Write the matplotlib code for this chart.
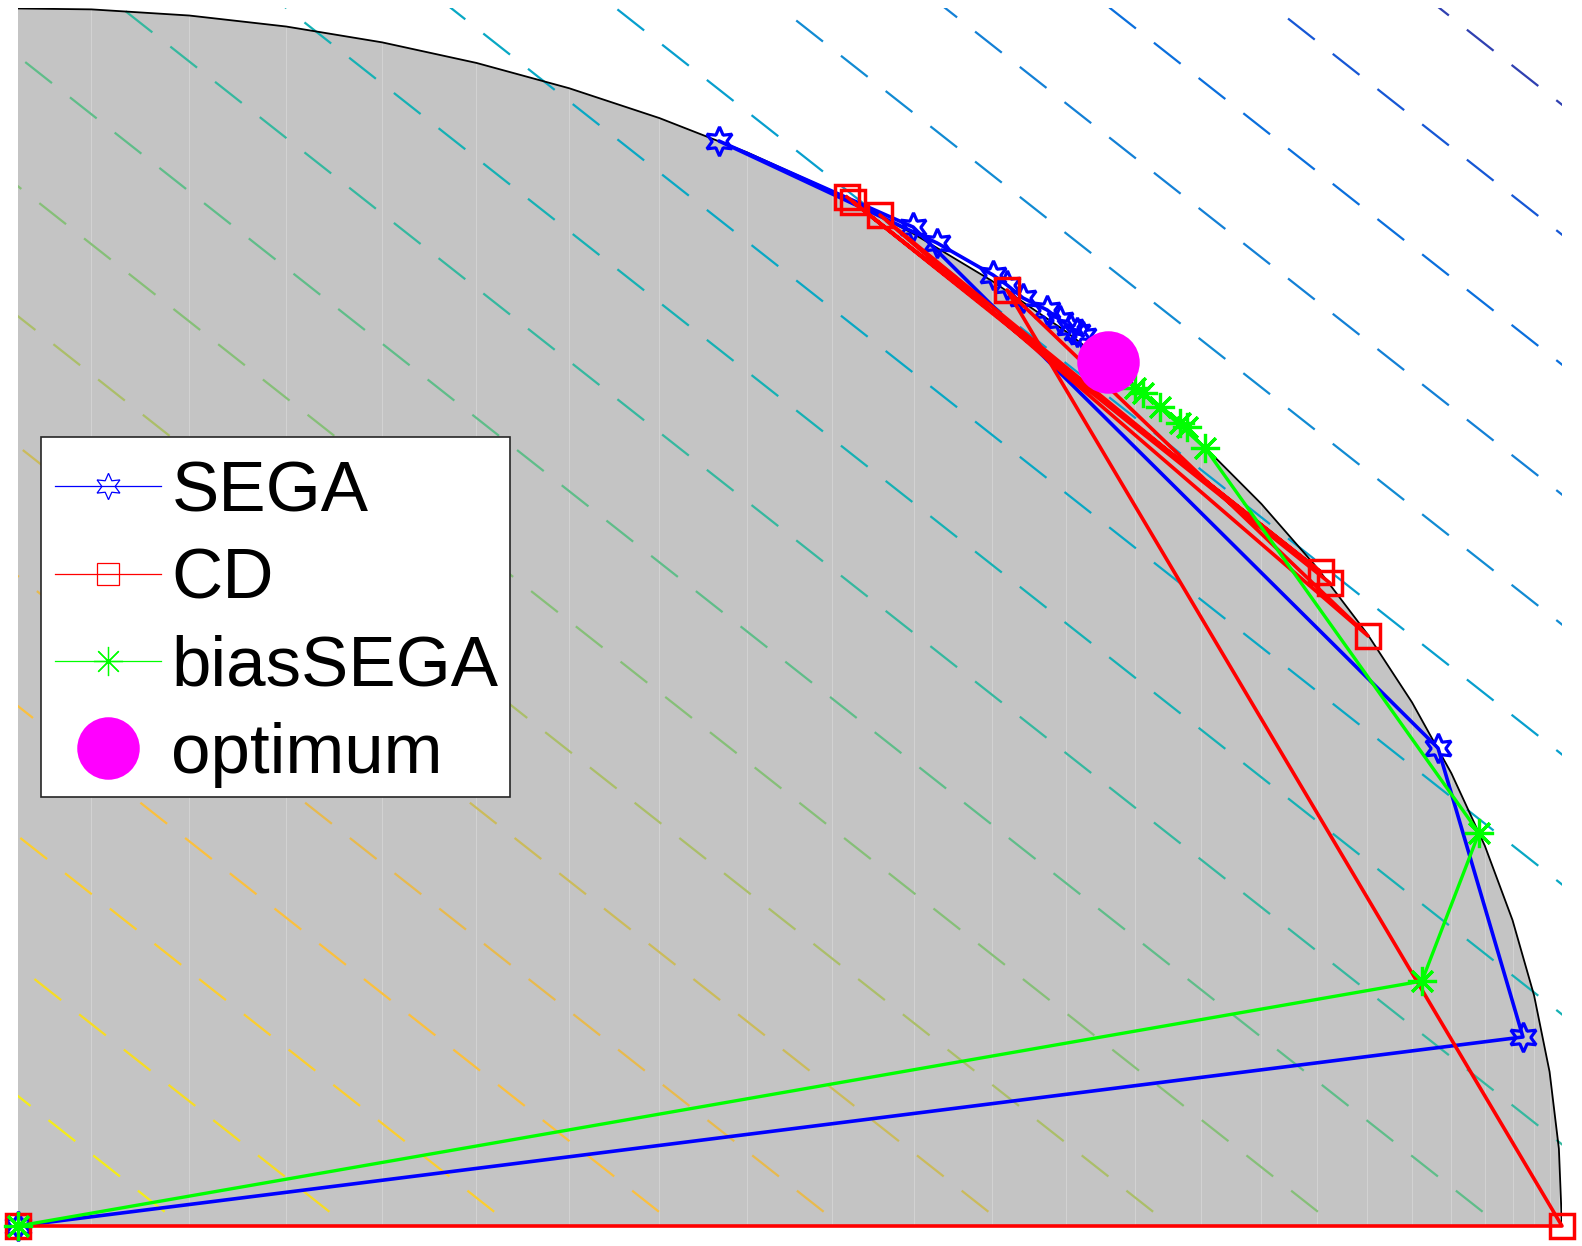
import numpy as np
import matplotlib
matplotlib.use("Agg")
import matplotlib.pyplot as plt
from matplotlib.colors import LinearSegmentedColormap
from matplotlib.lines import Line2D
from matplotlib.patches import Rectangle

plt.rcParams['font.family'] = ['Liberation Sans', 'DejaVu Sans']
plt.rcParams['lines.scale_dashes'] = False

# iterates of each method (normalised so the ellipse is the unit circle)
sega_x = [0.0, 0.9747, 0.9197, 0.5797, 0.4540, 0.5952, 0.6315, 0.6405, 0.6509,
          0.6665, 0.6749, 0.6813, 0.6859, 0.6898]
sega_y = [0.0, 0.1552, 0.3924, 0.8202, 0.8908, 0.8071, 0.7808, 0.7726, 0.7619,
          0.7521, 0.7438, 0.7381, 0.7340, 0.7307]

cd_x = [0.0, 1.0, 0.6405, 0.8744, 0.5583, 0.8497, 0.5408, 0.8439, 0.5369]
cd_y = [0.0, 0.0, 0.7685, 0.4844, 0.8300, 0.5279, 0.8407, 0.5369, 0.8448]

bias_x = [0.0, 0.9093, 0.9462, 0.7688, 0.7396, 0.7571, 0.7286, 0.7526, 0.7235]
bias_y = [0.0, 0.2011, 0.3227, 0.6388, 0.6724, 0.6560, 0.6839, 0.6593, 0.6880]

opt_x = [0.706]
opt_y = [0.709]

labels = ['SEGA', 'CD', 'biasSEGA', 'optimum']

# objective contour levels (linear objective -(x+y))
level_step = 0.1067
n_levels = 18

# parula-like colormap
parula = LinearSegmentedColormap.from_list('parula', [
    (0.2081, 0.1663, 0.5292), (0.1707, 0.2919, 0.7792), (0.0117, 0.3875, 0.8820),
    (0.0722, 0.4887, 0.8467), (0.0793, 0.5200, 0.8312), (0.0266, 0.6137, 0.8135),
    (0.0228, 0.6535, 0.7768), (0.0843, 0.6928, 0.7062), (0.2178, 0.7250, 0.6193),
    (0.3953, 0.7459, 0.5244), (0.5709, 0.7485, 0.4494), (0.7184, 0.7411, 0.3905),
    (0.8506, 0.7299, 0.3360), (0.9739, 0.7314, 0.2666), (0.9955, 0.7861, 0.1967),
    (0.9697, 0.8481, 0.1475), (0.9598, 0.9218, 0.0948), (0.9763, 0.9831, 0.0538)])

W, H = 1582, 1246
fig = plt.figure(figsize=(W / 100, H / 100), dpi=100)
ax = fig.add_axes([18 / W, 20 / H, 1544 / W, 1218 / H])
ax.set_xlim(0, 1)
ax.set_ylim(0, 1)
ax.axis('off')

# feasible set
theta = np.linspace(0, 2 * np.pi, 100)
ex, ey = np.cos(theta), np.sin(theta)
ax.fill(ex, ey, color='#c4c4c4', lw=0, zorder=1)
for px, py in zip(ex, ey):
    if 0 < px < 1 and 0 < py < 1:
        ax.plot([px, px], [0, py], color='white', alpha=0.25, lw=0.8, zorder=1.2)

# contours
gx = np.linspace(-0.05, 1.05, 60)
X, Y = np.meshgrid(gx, gx)
Z = -(X + Y)
levels = np.sort(-level_step * np.arange(1, n_levels + 1))
cs = ax.contour(X, Y, Z, levels=levels, cmap=parula, vmin=-2, vmax=0,
                linewidths=1.6, zorder=2)
cs.set_linestyle((0, (24.5, 16.5)))

ax.plot(ex, ey, color='black', lw=1.3, zorder=3)

# paths
ax.plot(sega_x, sega_y, color='blue', lw=2.6, marker=(6, 1, 0), ms=21,
        mfc='none', mew=2.3, clip_on=False, zorder=4)
ax.plot(cd_x, cd_y, color='red', lw=2.6, marker='s', ms=17,
        mfc='none', mew=2.5, clip_on=False, zorder=5)
ax.plot(bias_x, bias_y, color='lime', lw=2.4, marker=(8, 2, 0), ms=21,
        mew=2.3, clip_on=False, zorder=6)
ax.plot(opt_x, opt_y, 'o', color='magenta', ms=45, mec='none', zorder=7)

# legend box drawn separately so the rows can sit where they do in the original
box = Rectangle((41 / W, 1 - 797 / H), 469 / W, 360 / H, transform=fig.transFigure,
                facecolor='white', edgecolor='0.15', lw=1.2, clip_on=False, zorder=9)
ax.add_patch(box)

handles = [
    Line2D([], [], color='blue', lw=0.9, marker=(6, 1, 0), ms=19, mfc='none', mew=0.9),
    Line2D([], [], color='red', lw=0.9, marker='s', ms=15.5, mfc='none', mew=0.9),
    Line2D([], [], color='lime', lw=0.9, marker=(8, 2, 0), ms=21, mew=0.9),
    Line2D([], [], color='magenta', lw=0, marker='o', ms=45, mec='none'),
]
leg = ax.legend(handles, labels, loc='upper left',
                bbox_to_anchor=(41 / W, 1 - 446 / H),
                bbox_transform=fig.transFigure, borderaxespad=0,
                fontsize=51, borderpad=0.2, labelspacing=0.3,
                handlelength=1.5, handletextpad=0.14, frameon=False)
leg.set_zorder(10)

fig.savefig('out.png', dpi=100)
